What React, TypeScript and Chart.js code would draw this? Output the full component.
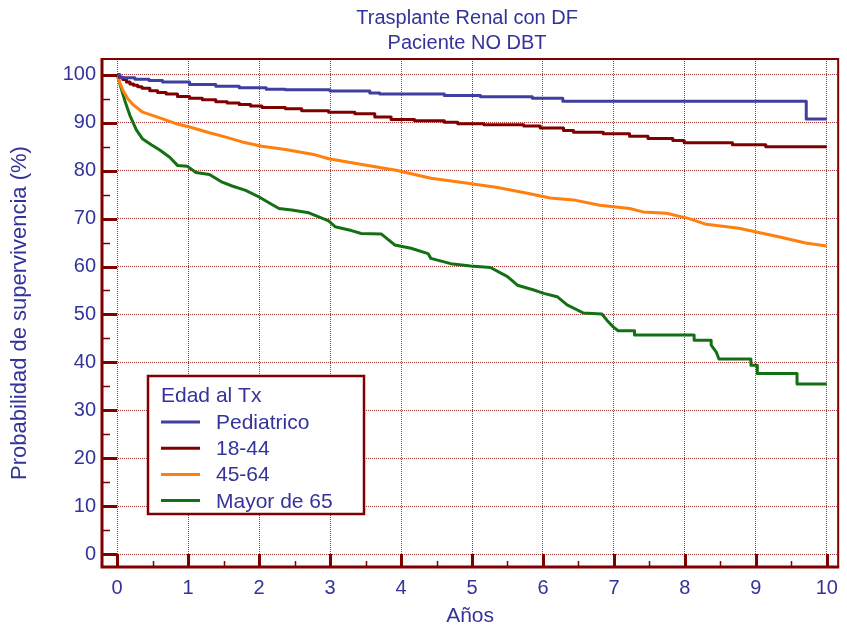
import { useEffect, useRef } from "react";
import { Chart, registerables } from "chart.js";

Chart.register(...registerables);

// Kaplan-Meier survival estimates (%), by age group at transplant.
// Pediatric and 18-44 groups are given as step events (time, survival after the drop);
// 45-64 and 65+ groups are traced as vertices along the curve.
const pediatricoYears = [0, 0.04, 0.25, 0.45, 0.64, 1.02, 1.39, 1.72, 2.1, 2.37, 3.0, 3.56, 3.7, 4.61, 5.12, 5.85, 6.28, 9.71, 10.0];
const pediatricoSurv = [100, 99.4, 99.1, 98.8, 98.5, 98.0, 97.6, 97.3, 97.0, 96.9, 96.6, 96.2, 96.0, 95.7, 95.4, 95.1, 94.5, 90.8, 90.8];

const adultYears = [0, 0.03, 0.08, 0.13, 0.18, 0.23, 0.29, 0.35, 0.46, 0.57, 0.69, 0.85, 1.02, 1.2, 1.39, 1.55, 1.72, 1.88, 2.04, 2.37, 2.6, 2.98, 3.35, 3.63, 3.86, 4.19, 4.61, 4.8, 5.17, 5.73, 5.96, 6.29, 6.43, 6.85, 7.22, 7.48, 7.83, 7.99, 8.67, 9.14, 10.0];
const adultSurv = [100, 99.5, 99.0, 98.5, 98.1, 97.8, 97.5, 97.2, 96.7, 96.3, 96.0, 95.5, 95.1, 94.8, 94.4, 94.1, 93.8, 93.5, 93.2, 92.9, 92.5, 92.2, 91.9, 91.2, 90.7, 90.4, 90.1, 89.8, 89.6, 89.3, 88.9, 88.4, 88.0, 87.7, 87.2, 86.7, 86.3, 85.8, 85.4, 85.0, 85.0];

const middleYears = [0, 0.03, 0.08, 0.15, 0.22, 0.36, 0.6, 0.83, 1.02, 1.3, 1.53, 1.76, 2.04, 2.37, 2.79, 2.98, 3.49, 3.93, 4.42, 4.89, 5.36, 5.78, 6.1, 6.43, 6.8, 7.22, 7.41, 7.74, 8.06, 8.3, 8.76, 9.32, 9.7, 10.0];
const middleSurv = [100, 98.5, 96.8, 95.0, 93.8, 92.2, 91.0, 89.8, 89.1, 87.9, 87.0, 86.0, 85.1, 84.4, 83.3, 82.5, 81.2, 80.1, 78.4, 77.5, 76.5, 75.3, 74.3, 73.9, 72.8, 72.1, 71.4, 71.1, 70.0, 68.8, 68.0, 66.2, 64.9, 64.3];

const elderYears = [0, 0.04, 0.08, 0.11, 0.18, 0.27, 0.36, 0.48, 0.6, 0.74, 0.85, 0.99, 1.11, 1.3, 1.48, 1.62, 1.81, 2.0, 2.15, 2.28, 2.46, 2.7, 2.98, 3.07, 3.3, 3.44, 3.72, 3.91, 4.14, 4.38, 4.42, 4.7, 4.98, 5.26, 5.5, 5.64, 5.87, 6.01, 6.2, 6.34, 6.57, 6.83, 6.9, 6.99, 7.06, 7.29, 7.29, 8.13, 8.13, 8.37, 8.37, 8.44, 8.48, 8.93, 8.93, 9.02, 9.02, 9.58, 9.58, 10.0];
const elderSurv = [100, 98.0, 96.0, 94.5, 91.5, 88.5, 86.6, 85.4, 84.3, 82.8, 81.1, 80.9, 79.6, 79.2, 77.6, 76.8, 75.9, 74.5, 73.2, 72.1, 71.8, 71.2, 69.5, 68.3, 67.5, 66.9, 66.8, 64.5, 63.8, 62.7, 61.7, 60.6, 60.1, 59.8, 57.9, 56.1, 55.1, 54.4, 53.7, 52.0, 50.3, 50.1, 48.8, 47.4, 46.6, 46.6, 45.7, 45.7, 44.6, 44.6, 43.6, 42.2, 40.7, 40.7, 39.4, 39.4, 37.7, 37.7, 35.5, 35.5];

const seriesLabels = ["Pediatrico", "18-44", "45-64", "Mayor de 65"];
const seriesColors = ["#3f3f9f", "#800000", "#ff7f0f", "#147014"];
const seriesStepped: (false | "before")[] = ["before", "before", false, false];

const xTickValues = [0, 1, 2, 3, 4, 5, 6, 7, 8, 9, 10];
const yTickValues = [0, 10, 20, 30, 40, 50, 60, 70, 80, 90, 100];

const titleLines = ["Trasplante Renal con DF", "Paciente NO DBT"];
const legendTitle = "Edad al Tx";
const xAxisTitle = "Años";
const yAxisTitle = "Probabilidad de supervivencia (%)";

const FONT = "'Liberation Sans', Arial, sans-serif";
const TEXT = "#333399";
const AXIS = "#800000";
const GRID = "#a03535";

const toPoints = (xs: number[], ys: number[]) => xs.map((x, i) => ({ x, y: ys[i] }));

const decorPlugin = {
  id: "decor",
  afterDatasetsDraw(chart: any) {
    const { ctx, chartArea: a, scales } = chart;
    const xs = scales.x;
    const ys = scales.y;
    ctx.save();
    ctx.strokeStyle = AXIS;
    // inward tick marks on the y axis (major every 10, minor every 5)
    for (let v = 0; v <= 100; v += 5) {
      const major = v % 10 === 0;
      const py = Math.round(ys.getPixelForValue(v)) + 0.5;
      ctx.lineWidth = major ? 3 : 1.5;
      ctx.beginPath();
      ctx.moveTo(a.left, py);
      ctx.lineTo(a.left + (major ? 15 : 8), py);
      ctx.stroke();
    }
    // inward tick marks on the x axis (major every year, minor every half year)
    for (let t = 0; t <= 10; t += 0.5) {
      const major = t % 1 === 0;
      const px = Math.round(xs.getPixelForValue(t)) + 0.5;
      ctx.lineWidth = major ? 3 : 1.5;
      ctx.beginPath();
      ctx.moveTo(px, a.bottom);
      ctx.lineTo(px, a.bottom - (major ? 13 : 6));
      ctx.stroke();
    }
    // frame: heavy axes on left/bottom, lighter on top/right
    ctx.lineWidth = 2;
    ctx.beginPath();
    ctx.moveTo(a.left, a.top);
    ctx.lineTo(a.right, a.top);
    ctx.lineTo(a.right, a.bottom);
    ctx.stroke();
    ctx.lineWidth = 3;
    ctx.beginPath();
    ctx.moveTo(a.left, a.top - 1);
    ctx.lineTo(a.left, a.bottom);
    ctx.lineTo(a.right + 1, a.bottom);
    ctx.stroke();
    ctx.restore();
  },
  afterDraw(chart: any) {
    const { ctx, chartArea: a } = chart;
    ctx.save();
    // two-line title over the plot
    ctx.fillStyle = TEXT;
    ctx.font = `20px ${FONT}`;
    ctx.textAlign = "center";
    ctx.textBaseline = "alphabetic";
    const cx = (a.left + a.right) / 2 - 3;
    ctx.fillText(titleLines[0], cx, 24);
    ctx.fillText(titleLines[1], cx, 49);

    // boxed legend in the lower-left of the plot
    const bx = a.left + 46;
    const by = a.top + 317;
    const bw = 216;
    const bh = 138;
    ctx.fillStyle = "#ffffff";
    ctx.fillRect(bx, by, bw, bh);
    ctx.strokeStyle = AXIS;
    ctx.lineWidth = 2.5;
    ctx.strokeRect(bx, by, bw, bh);
    ctx.textAlign = "left";
    ctx.font = `21px ${FONT}`;
    ctx.fillStyle = TEXT;
    ctx.fillText(legendTitle, bx + 13, by + 26);
    seriesLabels.forEach((label, i) => {
      const rowY = by + 46 + i * 26.2;
      ctx.strokeStyle = seriesColors[i];
      ctx.lineWidth = 3;
      ctx.beginPath();
      ctx.moveTo(bx + 13, rowY);
      ctx.lineTo(bx + 52, rowY);
      ctx.stroke();
      ctx.fillStyle = TEXT;
      ctx.fillText(label, bx + 68, rowY + 7);
    });
    ctx.restore();
  },
};

export default function App() {
  const canvasRef = useRef<HTMLCanvasElement | null>(null);

  useEffect(() => {
    document.body.style.margin = "0";
    const canvas = canvasRef.current;
    if (!canvas) return;

    const series = [
      toPoints(pediatricoYears, pediatricoSurv),
      toPoints(adultYears, adultSurv),
      toPoints(middleYears, middleSurv),
      toPoints(elderYears, elderSurv),
    ];

    const chart = new Chart(canvas, {
      type: "line",
      data: {
        datasets: series.map((data, i) => ({
          label: seriesLabels[i],
          data,
          borderColor: seriesColors[i],
          backgroundColor: seriesColors[i],
          borderWidth: 3,
          borderJoinStyle: "round" as const,
          pointRadius: 0,
          stepped: seriesStepped[i],
          tension: 0,
          fill: false,
        })),
      },
      options: {
        responsive: false,
        animation: false,
        devicePixelRatio: 1,
        layout: { padding: { top: 59, right: 3, left: 0, bottom: 0 } },
        plugins: {
          legend: { display: false },
          title: { display: false },
          tooltip: { enabled: false },
        },
        scales: {
          x: {
            type: "linear",
            min: -0.214,
            max: 10.16,
            afterFit: (s: any) => {
              s.height = 64;
            },
            afterBuildTicks: (s: any) => {
              s.ticks = xTickValues.map((value) => ({ value }));
            },
            grid: { color: GRID, lineWidth: 1, drawTicks: false },
            border: { display: false, dash: [1, 1] },
            ticks: {
              color: TEXT,
              font: { family: FONT, size: 20 },
              padding: 9,
              maxRotation: 0,
              autoSkip: false,
            },
            title: {
              display: true,
              text: xAxisTitle,
              color: TEXT,
              font: { family: FONT, size: 21 },
              padding: { top: 0, bottom: 2 },
            },
          },
          y: {
            type: "linear",
            min: -2.7,
            max: 103.3,
            afterFit: (s: any) => {
              s.width = 102;
            },
            afterBuildTicks: (s: any) => {
              s.ticks = yTickValues.map((value) => ({ value }));
            },
            grid: { color: GRID, lineWidth: 1, drawTicks: false },
            border: { display: false, dash: [1, 1] },
            ticks: {
              color: TEXT,
              font: { family: FONT, size: 20 },
              padding: 6,
              autoSkip: false,
            },
            title: {
              display: true,
              text: yAxisTitle,
              color: TEXT,
              font: { family: FONT, size: 22 },
              padding: { top: 7, bottom: 0 },
            },
          },
        },
      },
      plugins: [decorPlugin],
    });

    return () => chart.destroy();
  }, []);

  return (
    <div style={{ width: 847, height: 631 }}>
      <canvas ref={canvasRef} width={847} height={631} style={{ display: "block" }} />
    </div>
  );
}
